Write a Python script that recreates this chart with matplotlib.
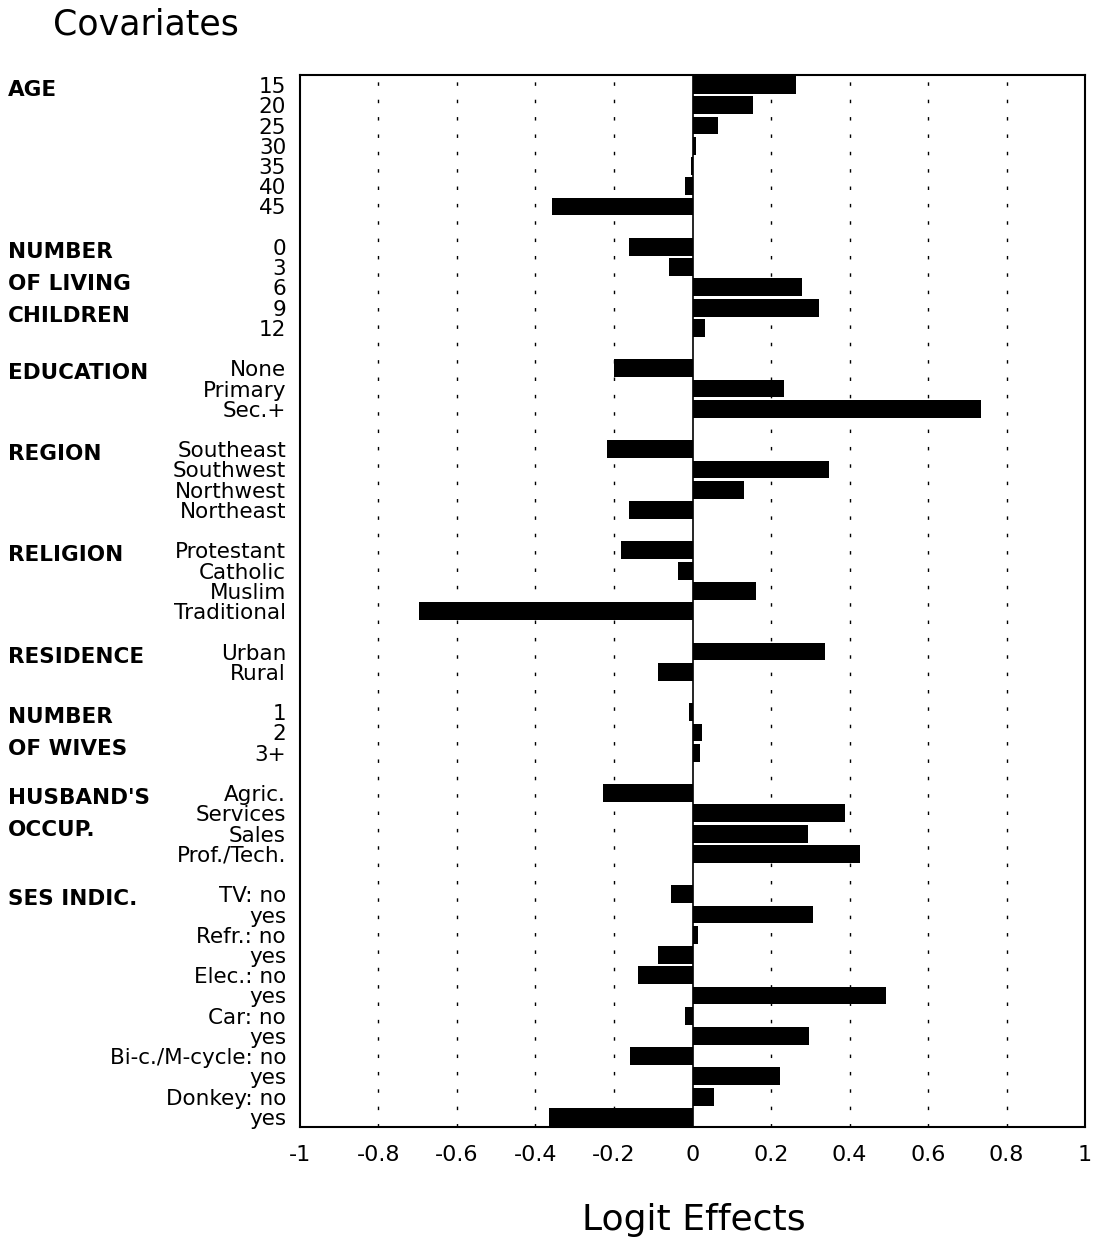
import matplotlib
matplotlib.use("Agg")
import matplotlib.pyplot as plt
import matplotlib.transforms as mtransforms

plt.rcParams['font.family'] = ['DejaVu Sans']

# group headings and their categories / logit effects
age_lab = ['15', '20', '25', '30', '35', '40', '45']
age_val = [0.263, 0.153, 0.064, 0.008, -0.005, -0.018, -0.357]

child_lab = ['0', '3', '6', '9', '12']
child_val = [-0.163, -0.059, 0.278, 0.321, 0.033]

edu_lab = ['None', 'Primary', 'Sec.+']
edu_val = [-0.199, 0.232, 0.735]

reg_lab = ['Southeast', 'Southwest', 'Northwest', 'Northeast']
reg_val = [-0.217, 0.347, 0.130, -0.163]

rel_lab = ['Protestant', 'Catholic', 'Muslim', 'Traditional']
rel_val = [-0.181, -0.036, 0.163, -0.696]

res_lab = ['Urban', 'Rural']
res_val = [0.337, -0.089]

wives_lab = ['1', '2', '3+']
wives_val = [-0.010, 0.023, 0.018]

occ_lab = ['Agric.', 'Services', 'Sales', 'Prof./Tech.']
occ_val = [-0.227, 0.388, 0.293, 0.426]

ses_lab = ['TV: no', 'yes', 'Refr.: no', 'yes', 'Elec.: no', 'yes',
           'Car: no', 'yes', 'Bi-c./M-cycle: no', 'yes', 'Donkey: no', 'yes']
ses_val = [-0.056, 0.306, 0.015, -0.089, -0.140, 0.492,
           -0.018, 0.298, -0.158, 0.222, 0.054, -0.365]

groups = [
    (['AGE'], age_lab, age_val),
    (['NUMBER', 'OF LIVING', 'CHILDREN'], child_lab, child_val),
    (['EDUCATION'], edu_lab, edu_val),
    (['REGION'], reg_lab, reg_val),
    (['RELIGION'], rel_lab, rel_val),
    (['RESIDENCE'], res_lab, res_val),
    (['NUMBER', 'OF WIVES'], wives_lab, wives_val),
    (["HUSBAND'S", 'OCCUP.'], occ_lab, occ_val),
    (['SES INDIC.'], ses_lab, ses_val),
]

xticks = [-1, -0.8, -0.6, -0.4, -0.2, 0, 0.2, 0.4, 0.6, 0.8, 1]
xticklabels = ['-1', '-0.8', '-0.6', '-0.4', '-0.2', '0', '0.2', '0.4', '0.6', '0.8', '1']

# build row positions, one empty row between groups
ypos, labels, values, heads = [], [], [], []
r = 0
for head, lab, val in groups:
    heads.append((head, r))
    for l, v in zip(lab, val):
        ypos.append(r)
        labels.append(l)
        values.append(v)
        r += 1
    r += 1
nrows = r - 1

fig = plt.figure(figsize=(10.94, 12.41), dpi=100)
ax = fig.add_axes([0.2742, 0.0919, 0.7176, 0.8477])

ax.barh(ypos, values, height=0.88, color='black', zorder=3)

for x in [-0.8, -0.6, -0.4, -0.2, 0.2, 0.4, 0.6, 0.8]:
    ax.axvline(x, color='black', lw=1, linestyle=(0, (2.5, 10)), zorder=1)
ax.axvline(0, color='black', lw=1.2, zorder=2)

ax.set_xlim(-1, 1)
ax.set_ylim(nrows - 0.5, -0.5)
ax.set_xticks(xticks)
ax.set_xticklabels(xticklabels, fontsize=16)
ax.set_yticks(ypos)
ax.set_yticklabels(labels, fontsize=15.5)
ax.tick_params(axis='y', length=0, pad=10)
ax.tick_params(axis='x', length=0, pad=13)
for s in ax.spines.values():
    s.set_linewidth(1.5)

trans = mtransforms.blended_transform_factory(fig.transFigure, ax.transData)
for head, row in heads:
    for k, line in enumerate(head):
        ax.text(0.007, row + 0.25 + k * 1.58, line, transform=trans,
                fontsize=15.5, fontweight='bold', ha='left', va='center')

fig.text(0.048, 0.980, 'Covariates', fontsize=25, ha='left', va='center')
fig.text(0.634, 0.017, 'Logit Effects', fontsize=26, ha='center', va='center')

fig.savefig('out.png', dpi=100)
